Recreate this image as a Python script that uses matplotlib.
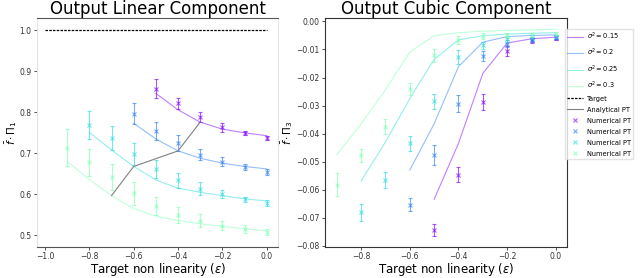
import matplotlib
import numpy as np

matplotlib.use("Agg")
import matplotlib.pyplot as plt
from matplotlib.lines import Line2D

sigmas = ["0.15", "0.2", "0.25", "0.3"]
eps_all = [-0.9, -0.8, -0.7, -0.6, -0.5, -0.4, -0.3, -0.2, -0.1, 0.0]
start_idx = [4, 3, 1, 0]  # first eps value each sigma curve is drawn from

# linear component (Pi_1)
lin_analytic = [
    [0.846, 0.806, 0.776, 0.759, 0.750, 0.743],
    [0.773, 0.735, 0.706, 0.688, 0.676, 0.668, 0.662],
    [0.751, 0.708, 0.668, 0.635, 0.615, 0.605, 0.597, 0.589, 0.584],
    [0.680, 0.636, 0.597, 0.565, 0.547, 0.536, 0.528, 0.522, 0.516, 0.511],
]
lin_num = [
    [0.858, 0.822, 0.789, 0.763, 0.750, 0.738],
    [0.797, 0.755, 0.725, 0.697, 0.680, 0.667, 0.654],
    [0.769, 0.737, 0.698, 0.662, 0.634, 0.614, 0.601, 0.588, 0.579],
    [0.714, 0.678, 0.642, 0.603, 0.572, 0.550, 0.536, 0.524, 0.516, 0.508],
]
lin_err = [
    [0.024, 0.014, 0.012, 0.010, 0.005, 0.005],
    [0.025, 0.022, 0.020, 0.014, 0.010, 0.008, 0.008],
    [0.035, 0.030, 0.026, 0.022, 0.019, 0.015, 0.010, 0.006, 0.007],
    [0.045, 0.033, 0.032, 0.028, 0.022, 0.020, 0.016, 0.012, 0.009, 0.008],
]
pt_eps = [-0.7, -0.6, -0.4, -0.3]
pt_lin = [0.597, 0.668, 0.706, 0.776]

# cubic component (Pi_3)
cub_analytic = [
    [-0.0634, -0.0435, -0.0185, -0.0077, -0.0062, -0.0056],
    [-0.0530, -0.0365, -0.0161, -0.0074, -0.0054, -0.0050, -0.0048],
    [-0.0569, -0.0430, -0.0275, -0.0135, -0.0066, -0.0051, -0.0045, -0.0042, -0.0040],
    [-0.0475, -0.0365, -0.0244, -0.0109, -0.0051, -0.0040, -0.0035, -0.0032, -0.0030, -0.0028],
]
cub_num = [
    [-0.0743, -0.0546, -0.0288, -0.0105, -0.0068, -0.0060],
    [-0.0653, -0.0477, -0.0293, -0.0123, -0.0080, -0.0066, -0.0056],
    [-0.0680, -0.0565, -0.0435, -0.0285, -0.0126, -0.0085, -0.0062, -0.0058, -0.0054],
    [-0.0582, -0.0478, -0.0375, -0.0241, -0.0120, -0.0065, -0.0051, -0.0049, -0.0047, -0.0045],
]
cub_err = [
    [0.0022, 0.0028, 0.0028, 0.0017, 0.0010, 0.0007],
    [0.0023, 0.0035, 0.0029, 0.0018, 0.0012, 0.0008, 0.0007],
    [0.0030, 0.0029, 0.0026, 0.0027, 0.0025, 0.0013, 0.0010, 0.0008, 0.0007],
    [0.0040, 0.0024, 0.0026, 0.0022, 0.0023, 0.0014, 0.0010, 0.0008, 0.0007, 0.0006],
]

colors = plt.cm.rainbow(np.linspace(0, 0.5, 4))

fig = plt.figure(figsize=(6.4, 2.78), dpi=100)
ax1 = fig.add_axes([0.058, 0.112, 0.377, 0.822])
ax2 = fig.add_axes([0.508, 0.112, 0.378, 0.822])


def draw(ax, analytic, num, err):
    for i, c in enumerate(colors):
        xs = eps_all[start_idx[i]:]
        ax.plot(xs, analytic[i], color=c, lw=0.8, alpha=0.5)
        ax.errorbar(xs, num[i], yerr=err[i], fmt="x", color=c, ms=2.5, mew=0.8,
                    elinewidth=0.8, capsize=1.5, alpha=0.65)


draw(ax1, lin_analytic, lin_num, lin_err)
ax1.plot([-1.0, 0.0], [1.0, 1.0], color="black", ls=(0, (2, 1)), lw=0.9)
ax1.plot(pt_eps, pt_lin, color="gray", lw=0.8)
ax1.set_xlim(-1.036, 0.053)
ax1.set_ylim(0.472, 1.029)
ax1.set_yticks([0.5, 0.6, 0.7, 0.8, 0.9, 1.0])
ax1.set_xticks([-1.0, -0.8, -0.6, -0.4, -0.2, 0.0])
for s in ["left", "right"]:
    ax1.spines[s].set_color("#e4e4e4")
for s in ["top", "bottom"]:
    ax1.spines[s].set_color("#555555")
ax1.set_title("Output Linear Component", fontsize=12, pad=0.5)
ax1.set_ylabel(r"$\bar{f}\cdot\Pi_1$", fontsize=7.5, labelpad=0.5)

draw(ax2, cub_analytic, cub_num, cub_err)
ax2.set_xlim(-0.948, 0.046)
ax2.set_ylim(-0.0804, 0.0011)
ax2.set_xticks([-0.8, -0.6, -0.4, -0.2, 0.0])
ax2.set_yticks([0.0, -0.01, -0.02, -0.03, -0.04, -0.05, -0.06, -0.07, -0.08])
for s in ax2.spines.values():
    s.set_color("#333333")
ax2.set_title("Output Cubic Component", fontsize=12, pad=0.5)
ax2.set_ylabel(r"$\bar{f}\cdot\Pi_3$", fontsize=7.5, labelpad=0.5)

for ax in (ax1, ax2):
    ax.tick_params(labelsize=5.5, length=2, width=0.6, pad=2, colors="#333333")
    ax.set_xlabel(r"Target non linearity ($\epsilon$)", fontsize=8.5, labelpad=0)

handles = [Line2D([], [], color=c, lw=0.8, alpha=0.5) for c in colors]
labels = [r"$\sigma^2=%s$" % s for s in sigmas]
handles += [Line2D([], [], color="black", ls=(0, (2, 1)), lw=0.9),
            Line2D([], [], color="gray", lw=0.8)]
labels += ["Target", "Analytical PT"]
handles += [Line2D([], [], color=c, marker="x", ls="none", ms=2.5, mew=0.8, alpha=0.65)
            for c in colors]
labels += ["Numerical PT"] * 4
ax2.legend(handles, labels, loc="upper left", bbox_to_anchor=(0.99, 0.955),
           borderaxespad=0, fontsize=4.8, frameon=True, handlelength=2.4,
           handletextpad=0.6, labelspacing=0.75, borderpad=0.3,
           edgecolor="#dddddd", fancybox=False)

fig.savefig("out.png", dpi=100)
